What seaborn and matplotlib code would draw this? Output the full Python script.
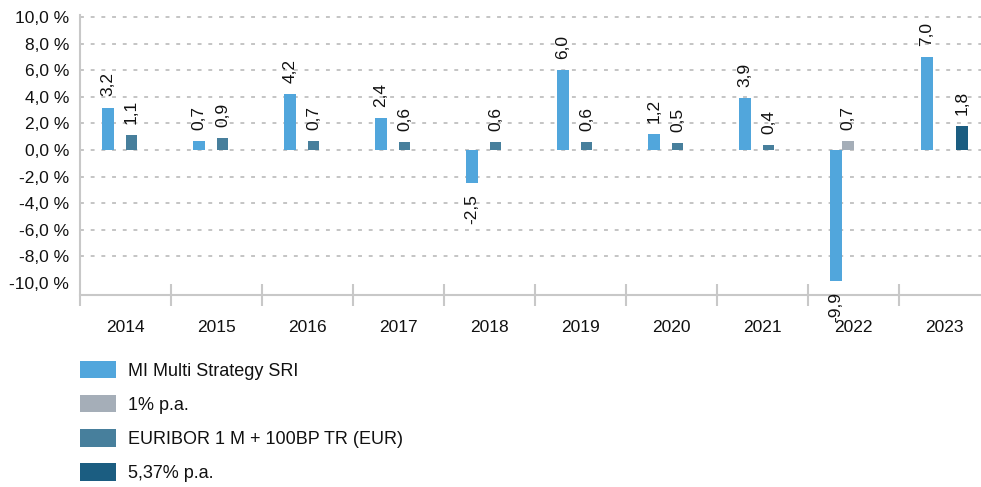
import numpy as np
import pandas as pd
import seaborn as sns
import matplotlib.pyplot as plt
from matplotlib.patches import Patch

# Data
years = ['2014', '2015', '2016', '2017', '2018', '2019', '2020', '2021', '2022', '2023']
series_names = ['MI Multi Strategy SRI', '1% p.a.', 'EURIBOR 1 M + 100BP TR (EUR)', '5,37% p.a.']
fund = [3.2, 0.7, 4.2, 2.4, -2.5, 6.0, 1.2, 3.9, -9.9, 7.0]
one_pct = [None, None, None, None, None, None, None, None, 0.7, None]
euribor = [1.1, 0.9, 0.7, 0.6, 0.6, 0.6, 0.5, 0.4, None, None]
pct_537 = [None, None, None, None, None, None, None, None, None, 1.8]
colors = ['#51a6dc', '#a5aeb8', '#477f9c', '#1b5d81']
yticks = [-10, -8, -6, -4, -2, 0, 2, 4, 6, 8, 10]

rows = []
for name, vals in zip(series_names, [fund, one_pct, euribor, pct_537]):
    for y, v in zip(years, vals):
        if v is not None:
            rows.append({'year': y, 'value': v, 'series': name})
df = pd.DataFrame(rows)

sns.set_style('white')
plt.rcParams['font.family'] = ['Liberation Sans', 'DejaVu Sans']
plt.rcParams['font.size'] = 12
plt.rcParams['text.color'] = '#111111'
plt.rcParams['xtick.labelcolor'] = '#111111'
plt.rcParams['ytick.labelcolor'] = '#111111'

fig = plt.figure(figsize=(9.81, 4.87), dpi=100)
ax = fig.add_axes([80 / 981, 1 - 294.5 / 487, 910 / 981, (294.5 - 14.8) / 487])

sns.barplot(data=df, x='year', y='value', hue='series', hue_order=series_names,
            order=years, palette=colors, width=0.52, dodge=True, saturation=1,
            errorbar=None, linewidth=0, legend=False, ax=ax)

# value labels
for c in ax.containers:
    labels = [f"{b.get_height():.1f}".replace('.', ',') for b in c]
    ax.bar_label(c, labels=labels, rotation=90, padding=8, fontsize=12.5, color='#111111')

ax.set_ylim(-10.9, 10.2)
ax.set_xlim(-0.5, 9.5)
ax.set_yticks(yticks)
ax.set_yticklabels([f"{t:.1f} %".replace('.', ',') for t in yticks])
ax.tick_params(axis='y', left=False, length=0, pad=8, labelsize=12.5)

# category boundaries as major ticks, year labels on minor ticks
ax.set_xticks(np.arange(-0.5, 10, 1))
ax.set_xticklabels([])
ax.set_xticks(np.arange(10), minor=True)
ax.set_xticklabels(years, minor=True)
ax.tick_params(axis='x', which='major', bottom=True, direction='inout', length=16,
               width=1.5, color='#c8c8c8')
ax.tick_params(axis='x', which='minor', bottom=True, length=0, pad=18, labelsize=12.5)
ax.set_xlabel('')
ax.set_ylabel('')

ax.grid(axis='y', color='#c4c4c4', linestyle=(0, (2, 3.5)), linewidth=1.4)
ax.get_ygridlines()[0].set_visible(False)
ax.set_axisbelow(True)

for s in ['top', 'right']:
    ax.spines[s].set_visible(False)
ax.spines['left'].set_color('#c8c8c8')
ax.spines['left'].set_linewidth(1.5)
ax.spines['left'].set_bounds(-10, 10.2)
ax.spines['bottom'].set_color('#c8c8c8')
ax.spines['bottom'].set_linewidth(1.5)

handles = [Patch(facecolor=c, edgecolor='none') for c in colors]
fig.legend(handles, series_names, loc='upper left',
           bbox_to_anchor=(80 / 981, 1 - 361 / 487), frameon=False,
           ncol=1, fontsize=13, handlelength=2.0, handleheight=1.1,
           handletextpad=0.65, labelspacing=0.85, borderpad=0, borderaxespad=0)

fig.savefig('out.png', dpi=100)
